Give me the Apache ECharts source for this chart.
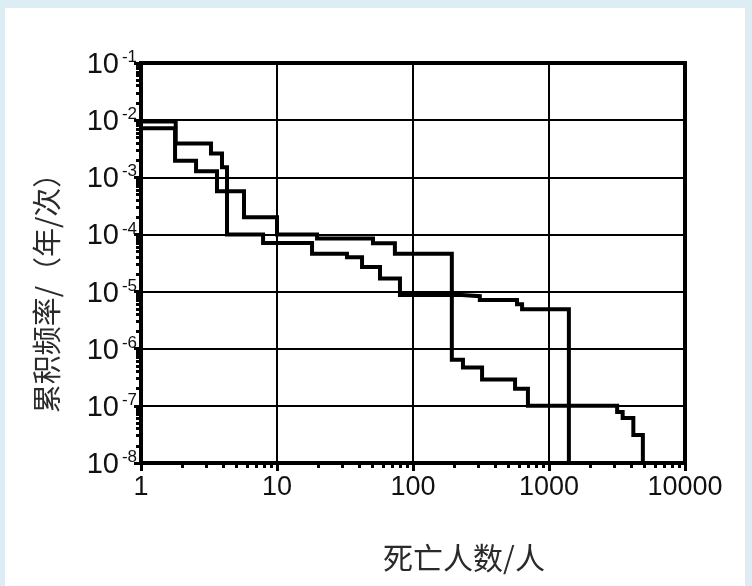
<!DOCTYPE html>
<html>
<head>
<meta charset="utf-8">
<script src="https://cdn.jsdelivr.net/npm/echarts@6/dist/echarts.min.js"></script>
<style>
  html, body { margin: 0; padding: 0; width: 752px; height: 586px; background: #dcedf3; overflow: hidden; }
  #chart { position: absolute; left: 5px; top: 8px; width: 740px; height: 578px; background: #ffffff; }
</style>
</head>
<body>
<div id="chart"></div>
<script>
// ---- Data ----
// Curve A: x where each horizontal step begins, and the frequency level of that step
const curveAX = [1, 1.8, 3.27, 3.94, 4.29, 7.9, 18.1, 32.7, 42.2, 57.2, 80.2, 229, 310, 582, 634, 1400];
const curveAY = [9.5e-3, 3.9e-3, 2.6e-3, 1.5e-3, 1e-4, 7.1e-5, 4.6e-5, 4.0e-5, 2.7e-5, 1.7e-5, 8.7e-6, 8.3e-6, 7.1e-6, 6.0e-6, 4.9e-6, 1e-8];
// Curve B
const curveBX = [1, 1.78, 2.54, 3.62, 5.72, 10, 19.7, 50.8, 73.6, 193, 233, 322, 563, 700, 3170, 3480, 4170, 4900];
const curveBY = [7.2e-3, 1.94e-3, 1.27e-3, 5.7e-4, 2e-4, 1e-4, 8.5e-5, 7.0e-5, 4.6e-5, 6.4e-7, 4.7e-7, 2.9e-7, 2.0e-7, 1e-7, 7.8e-8, 6.1e-8, 3.1e-8, 1e-8];

// Axis ranges and tick labels
const xMin = 1, xMax = 10000;
const yMin = 1e-8, yMax = 1e-1;
const xTickLabels = ['1', '10', '100', '1000', '10000'];
const yTickExponents = ['-8', '-7', '-6', '-5', '-4', '-3', '-2', '-1'];
const xDecades = [1, 10, 100, 1000];
const yDecades = [1e-8, 1e-7, 1e-6, 1e-5, 1e-4, 1e-3, 1e-2];
const minorMultipliers = [2, 3, 4, 5, 6, 7, 8, 9];

const xTitle = '死亡人数/人';
const yTitle = '累积频率/（年/次）';

// ---- Build ----
// minor tick positions expressed as exponents, for an overlay value axis spanning the same decades
function minorTickExps(decades) {
  const out = [];
  decades.forEach(d => minorMultipliers.forEach(m => out.push(Math.log10(d * m))));
  return out;
}
function pairs(xs, ys) { return xs.map((x, i) => [x, ys[i]]); }

const chart = echarts.init(document.getElementById('chart'), null, { renderer: 'canvas' });

const labelFont = '"Liberation Sans", Arial, sans-serif';
const cjkFont = '"Noto Sans CJK SC", sans-serif';

const option = {
  animation: false,
  backgroundColor: '#ffffff',
  grid: {
    left: 136, top: 55, right: 60, bottom: 123,
    show: true, borderColor: '#000', borderWidth: 4, backgroundColor: 'transparent'
  },
  xAxis: [
    {
      type: 'log', logBase: 10, min: xMin, max: xMax, position: 'bottom',
      axisLine: { show: true, lineStyle: { color: '#000', width: 4 } },
      axisTick: { show: true, inside: false, length: 8, lineStyle: { color: '#000', width: 3 } },
      axisLabel: {
        margin: 11, fontSize: 27, fontFamily: labelFont, color: '#111',
        formatter: v => xTickLabels[Math.round(Math.log10(v))]
      },
      splitLine: { show: true, lineStyle: { color: '#000', width: 2 } },
      minorTick: { show: false }, minorSplitLine: { show: false }
    },
    {
      type: 'value', min: Math.log10(xMin), max: Math.log10(xMax), position: 'bottom',
      axisLine: { show: false },
      axisTick: { show: true, inside: false, length: 5, customValues: minorTickExps(xDecades), lineStyle: { color: '#000', width: 3 } },
      axisLabel: { show: false },
      splitLine: { show: false }
    }
  ],
  yAxis: [
    {
      type: 'log', logBase: 10, min: yMin, max: yMax, position: 'left',
      axisLine: { show: true, lineStyle: { color: '#000', width: 4 } },
      axisTick: { show: true, inside: false, length: 7, lineStyle: { color: '#000', width: 3 } },
      axisLabel: {
        margin: 4, fontFamily: labelFont, color: '#111',
        formatter: v => '{b|10}{s|' + yTickExponents[Math.round(Math.log10(v)) + 8] + '}',
        rich: {
          b: { fontSize: 29, lineHeight: 28, fontFamily: labelFont, color: '#111', padding: [4, 0, 0, 0] },
          s: { fontSize: 17, lineHeight: 17, fontFamily: labelFont, color: '#111', verticalAlign: 'top', padding: [0, 0, 0, 3] }
        }
      },
      splitLine: { show: true, lineStyle: { color: '#000', width: 2 } },
      minorTick: { show: false }, minorSplitLine: { show: false }
    },
    {
      type: 'value', min: Math.log10(yMin), max: Math.log10(yMax), position: 'left',
      axisLine: { show: false },
      axisTick: { show: true, inside: false, length: 5, customValues: minorTickExps(yDecades), lineStyle: { color: '#000', width: 3 } },
      axisLabel: { show: false },
      splitLine: { show: false }
    }
  ],
  series: [
    {
      name: 'A', type: 'line', xAxisIndex: 0, yAxisIndex: 0,
      step: 'end', symbol: 'none', clip: false,
      lineStyle: { color: '#000', width: 4, cap: 'square', join: 'miter' },
      data: pairs(curveAX, curveAY), z: 5
    },
    {
      name: 'B', type: 'line', xAxisIndex: 0, yAxisIndex: 0,
      step: 'end', symbol: 'none', clip: false,
      lineStyle: { color: '#000', width: 4, cap: 'square', join: 'miter' },
      data: pairs(curveBX, curveBY), z: 5
    }
  ],
  graphic: [
    {
      type: 'text', x: 459, y: 550,
      style: { text: xTitle, font: '30px ' + cjkFont, fill: '#2a2a2a', align: 'center', verticalAlign: 'middle' }
    },
    {
      type: 'text', x: 42, y: 278, rotation: Math.PI / 2,
      style: { text: yTitle, font: '29px ' + cjkFont, fill: '#2a2a2a', align: 'center', verticalAlign: 'middle' }
    }
  ]
};
chart.setOption(option);
</script>
</body>
</html>
